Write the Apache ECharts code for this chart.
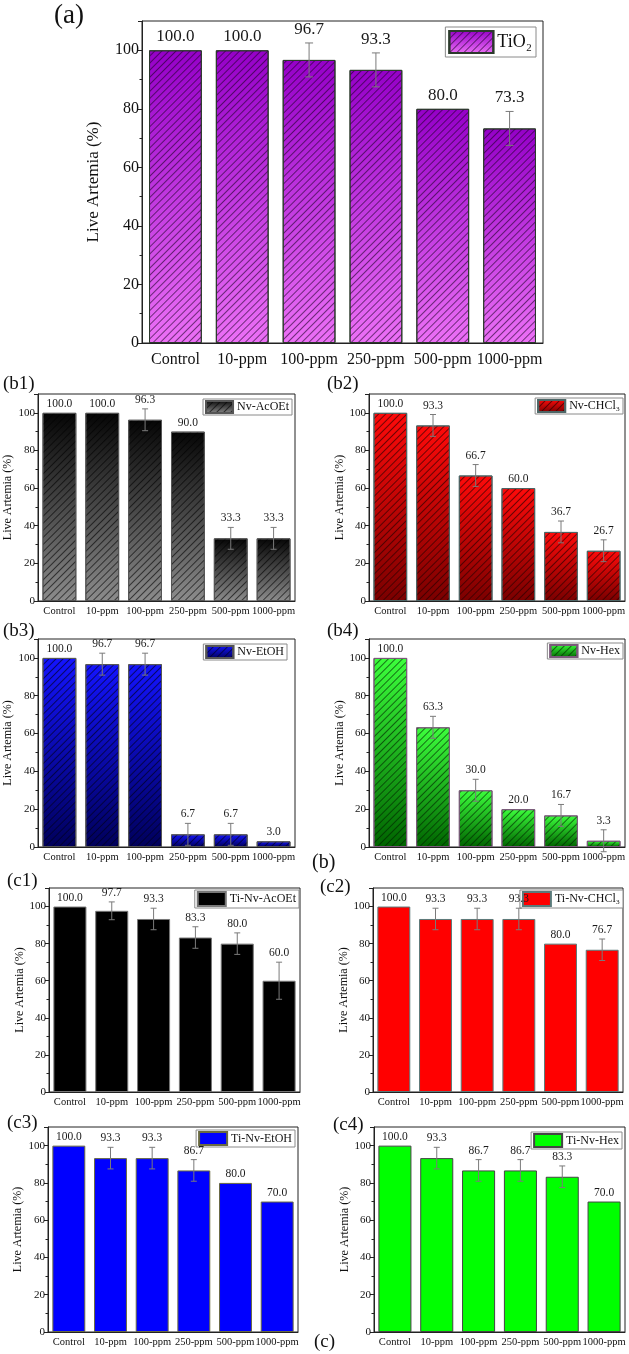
<!DOCTYPE html>
<html>
<head>
<meta charset="utf-8">
<script src="https://cdn.jsdelivr.net/npm/echarts@6/dist/echarts.min.js"></script>
<style>
html,body{margin:0;padding:0;background:#fff;}
#chart{width:629px;height:1354px;}
</style>
</head>
<body>
<div id="chart"></div>
<script>
// categories shared by every panel
const categories = ['Control', '10-ppm', '100-ppm', '250-ppm', '500-ppm', '1000-ppm'];

// (a) TiO2
const tio2Values = [100.0, 100.0, 96.7, 93.3, 80.0, 73.3];
const tio2Errors = [0, 0, 5.8, 5.8, 0, 5.8];
// (b1)..(b4) extracts
const nvAcoetValues = [100.0, 100.0, 96.3, 90.0, 33.3, 33.3];
const nvAcoetErrors = [0, 0, 5.8, 0, 5.8, 5.8];
const nvChcl3Values = [100.0, 93.3, 66.7, 60.0, 36.7, 26.7];
const nvChcl3Errors = [0, 5.8, 5.8, 0, 5.8, 5.8];
const nvEtohValues = [100.0, 96.7, 96.7, 6.7, 6.7, 3.0];
const nvEtohErrors = [0, 5.8, 5.8, 5.8, 5.8, 0];
const nvHexValues = [100.0, 63.3, 30.0, 20.0, 16.7, 3.3];
const nvHexErrors = [0, 5.8, 5.8, 0, 5.8, 5.8];
// (c1)..(c4) Ti-Nv
const tiAcoetValues = [100.0, 97.7, 93.3, 83.3, 80.0, 60.0];
const tiAcoetErrors = [0, 4.8, 5.8, 5.8, 5.8, 10];
const tiChcl3Values = [100.0, 93.3, 93.3, 93.3, 80.0, 76.7];
const tiChcl3Errors = [0, 5.8, 5.8, 5.8, 0, 5.8];
const tiEtohValues = [100.0, 93.3, 93.3, 86.7, 80.0, 70.0];
const tiEtohErrors = [0, 5.8, 5.8, 5.8, 0, 0];
const tiHexValues = [100.0, 93.3, 86.7, 86.7, 83.3, 70.0];
const tiHexErrors = [0, 5.8, 5.8, 5.8, 5.8, 0];

const serif = 'Liberation Serif';

function grad(top, bottom) {
  return new echarts.graphic.LinearGradient(0, 0, 0, 1, [
    { offset: 0, color: top },
    { offset: 1, color: bottom }
  ]);
}
function hatch(color, gap) {
  return { symbol: 'rect', symbolSize: 1, dashArrayX: [1, 0], dashArrayY: [1, gap], rotation: -Math.PI / 4, color: color };
}

const big = { tick: 16, cat: 16, name: 17, val: 17, leg: 18, catMargin: 9, gap: 5, cap: 4 };
const small = { tick: 11, cat: 10.5, name: 12, val: 11.5, leg: 12, catMargin: 5, gap: 3, cap: 3 };

// layout of the panels: grid [left,right,top,bottom], legend [right,top]
const panels = [
  { name: 'TiO₂', values: tio2Values, errors: tio2Errors, grid: [142, 86, 21, 1011], leg: [93, 27], nameGap: 40, f: big,
    color: grad('#9500c8', '#ec70f6'), border: '#2c3a2c', decal: hatch('rgba(30,0,40,0.6)', 4), iw: 44, ih: 22 },
  { name: 'Nv-AcOEt', values: nvAcoetValues, errors: nvAcoetErrors, grid: [38, 334, 394, 753], leg: [337, 399], nameGap: 24, f: small,
    color: grad('#050505', '#8c8c8c'), border: '#555', decal: hatch('rgba(0,0,0,0.6)', 3.5), iw: 27, ih: 12 },
  { name: 'Nv-CHCl₃', values: nvChcl3Values, errors: nvChcl3Errors, grid: [369, 4, 394, 753], leg: [6, 398], nameGap: 23, f: small,
    color: grad('#ff0a0a', '#7a0000'), border: '#4d6666', decal: hatch('rgba(40,0,0,0.65)', 3.5), iw: 27, ih: 12 },
  { name: 'Nv-EtOH', values: nvEtohValues, errors: nvEtohErrors, grid: [38, 334, 639, 507], leg: [342, 644], nameGap: 24, f: small,
    color: grad('#1414ff', '#00005a'), border: '#555', decal: hatch('rgba(0,0,30,0.65)', 3.5), iw: 27, ih: 12 },
  { name: 'Nv-Hex', values: nvHexValues, errors: nvHexErrors, grid: [369, 4, 639, 507], leg: [6, 643], nameGap: 23, f: small,
    color: grad('#3cff3c', '#006400'), border: '#7a5a7a', decal: hatch('rgba(0,40,0,0.65)', 3.5), iw: 27, ih: 12 },
  { name: 'Ti-Nv-AcOEt', values: tiAcoetValues, errors: tiAcoetErrors, grid: [49, 329, 888, 262], leg: [330, 890], nameGap: 23, f: small,
    color: '#000000', border: '#777', decal: null, iw: 28, ih: 14 },
  { name: 'Ti-Nv-CHCl₃', values: tiChcl3Values, errors: tiChcl3Errors, grid: [373, 6, 888, 262], leg: [6, 890], nameGap: 22, f: small,
    color: '#ff0000', border: '#5a7a7a', decal: null, iw: 28, ih: 14 },
  { name: 'Ti-Nv-EtOH', values: tiEtohValues, errors: tiEtohErrors, grid: [48, 331, 1127, 22], leg: [334, 1130], nameGap: 24, f: small,
    color: '#0000ff', border: '#6a6a40', decal: null, iw: 28, ih: 13 },
  { name: 'Ti-Nv-Hex', values: tiHexValues, errors: tiHexErrors, grid: [374, 4, 1127, 22], leg: [7, 1132], nameGap: 23, f: small,
    color: '#00ff00', border: '#444', decal: null, iw: 28, ih: 13 }
];

const option = { animation: false, grid: [], xAxis: [], yAxis: [], series: [], legend: [], graphic: [] };

function errRender(f) {
  return function (params, api) {
    const k = api.value(0), v = api.value(1), e = api.value(2);
    const top = api.coord([k, v + e]);
    const bot = api.coord([k, v - e]);
    const kids = [];
    if (e > 0) {
      const st = { stroke: '#7a7a7a', lineWidth: 1 };
      kids.push({ type: 'line', shape: { x1: top[0], y1: top[1], x2: bot[0], y2: bot[1] }, style: st });
      kids.push({ type: 'line', shape: { x1: top[0] - f.cap, y1: top[1], x2: top[0] + f.cap, y2: top[1] }, style: st });
      kids.push({ type: 'line', shape: { x1: bot[0] - f.cap, y1: bot[1], x2: bot[0] + f.cap, y2: bot[1] }, style: st });
    }
    kids.push({ type: 'text', x: top[0], y: top[1] - f.gap,
      style: { text: v.toFixed(1), fontFamily: serif, fontSize: f.val, fill: '#1a1a1a', align: 'center', verticalAlign: 'bottom' } });
    return { type: 'group', children: kids };
  };
}

panels.forEach(function (p, i) {
  const f = p.f;
  option.grid.push({ left: p.grid[0], right: p.grid[1], top: p.grid[2], bottom: p.grid[3],
    show: true, borderColor: '#222', borderWidth: 1, backgroundColor: 'transparent' });
  const xi = option.xAxis.length;
  option.xAxis.push({ type: 'category', gridIndex: i, data: categories, position: 'bottom',
    axisLine: { lineStyle: { color: '#222', width: 1 } },
    axisTick: { alignWithLabel: true, length: 4, lineStyle: { color: '#222' } },
    axisLabel: { interval: 0, margin: f.catMargin, fontFamily: serif, fontSize: f.cat, color: '#111' } });
  // short ticks at the category boundaries
  option.xAxis.push({ type: 'category', gridIndex: i, data: categories, position: 'bottom',
    axisLine: { show: false }, axisTick: { length: 2.5, lineStyle: { color: '#222' } }, axisLabel: { show: false } });
  option.yAxis.push({ type: 'value', gridIndex: i, min: 0, max: 110, interval: 20,
    name: 'Live Artemia (%)', nameLocation: 'middle', nameGap: p.nameGap,
    nameTextStyle: { fontFamily: serif, fontSize: f.name, color: '#111' },
    axisLine: { show: true, lineStyle: { color: '#222', width: 1 } },
    axisTick: { show: true, length: 4, lineStyle: { color: '#222' } },
    minorTick: { show: true, splitNumber: 2, length: 2.5, lineStyle: { color: '#222' } },
    splitLine: { show: false },
    axisLabel: { showMaxLabel: false, margin: 3, fontFamily: serif, fontSize: f.tick, color: '#111' } });
  const bar = { type: 'bar', name: p.name, xAxisIndex: xi, yAxisIndex: i, data: p.values, barWidth: '79%',
    itemStyle: { color: p.color, borderColor: p.border, borderWidth: 1 } };
  if (p.decal) bar.itemStyle.decal = p.decal;
  option.series.push(bar);
  option.series.push({ type: 'custom', xAxisIndex: xi, yAxisIndex: i, z: 5, silent: true,
    data: p.values.map(function (v, k) { return [k, v, p.errors[k]]; }),
    encode: { x: 0, y: 1 }, renderItem: errRender(f) });
  option.legend.push({ data: [p.name], right: p.leg[0], top: p.leg[1], selectedMode: false,
    icon: 'rect', itemWidth: p.iw, itemHeight: p.ih, itemGap: 0,
    padding: f === big ? [3, 4, 3, 3] : [1, 3, 1, 2],
    borderColor: '#8a8a8a', borderWidth: 1, backgroundColor: '#fff',
    textStyle: { fontFamily: serif, fontSize: f.leg, color: '#111', padding: [0, 0, 0, -1] } });
});

// panel letters
const letters = [
  ['(a)', 54, 2, 27], ['(b1)', 3, 375, 19], ['(b2)', 327, 375, 19],
  ['(b3)', 3, 622, 19], ['(b4)', 327, 622, 19], ['(b)', 312, 853, 20],
  ['(c1)', 7, 872, 19], ['(c2)', 320, 878, 19], ['(c3)', 7, 1114, 19],
  ['(c4)', 333, 1116, 19], ['(c)', 314, 1333, 19]
];
letters.forEach(function (t) {
  option.graphic.push({ type: 'text', left: t[1], top: t[2],
    style: { text: t[0], fontFamily: serif, fontSize: t[3], fill: '#111' } });
});

const chart = echarts.init(document.getElementById('chart'));
chart.setOption(option);
window.addEventListener('resize', function () { chart.resize(); });
</script>
</body>
</html>
